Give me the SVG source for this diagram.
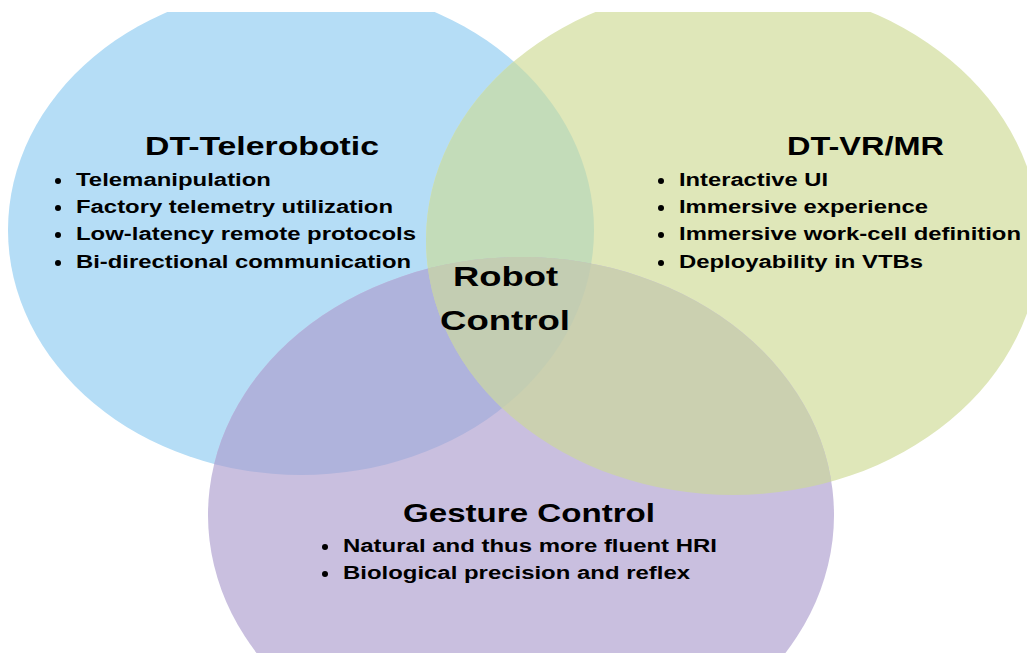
<svg xmlns="http://www.w3.org/2000/svg" width="1027" height="653" viewBox="0 0 1027 653">
<style>
.h{font-family:"Liberation Sans",Arial,sans-serif;font-weight:bold;font-size:26px;fill:#000}
.c{font-family:"Liberation Sans",Arial,sans-serif;font-weight:bold;font-size:28px;fill:#000}
.t{font-family:"Liberation Sans",Arial,sans-serif;font-weight:bold;font-size:18px;fill:#000}
.dot{fill:#000}
</style>
<defs>
<clipPath id="frame"><rect x="0" y="12" width="1027" height="641"/></clipPath>
<clipPath id="cb"><ellipse cx="301" cy="230" rx="293" ry="245"/></clipPath>
<clipPath id="cg"><ellipse cx="733" cy="240" rx="307" ry="255"/></clipPath>
</defs>
<rect width="1027" height="653" fill="#fff"/>
<g clip-path="url(#frame)">
  <g id="dt-telerobotic-shape"><ellipse cx="301" cy="230" rx="293" ry="245" fill="#b5ddf6"/></g>
  <g id="dt-vrmr-shape"><ellipse cx="733" cy="240" rx="307" ry="255" fill="#dfe7b9"/></g>
  <g id="gesture-shape"><ellipse cx="521" cy="515" rx="313" ry="258" fill="#c9bfdf"/></g>
  <g clip-path="url(#cb)"><ellipse cx="733" cy="240" rx="307" ry="255" fill="#c3dcb9"/></g>
  <g clip-path="url(#cb)"><ellipse cx="521" cy="515" rx="313" ry="258" fill="#afb3dc"/></g>
  <g clip-path="url(#cg)"><ellipse cx="521" cy="515" rx="313" ry="258" fill="#cbd0b0"/></g>
  <g clip-path="url(#cb)"><g clip-path="url(#cg)"><ellipse cx="521" cy="515" rx="313" ry="258" fill="#c3cdb2"/></g></g>
</g>
<g id="dt-telerobotic">
  <text class="h" x="145" y="155" textLength="234" lengthAdjust="spacingAndGlyphs">DT-Telerobotic</text>
  <circle class="dot" cx="58" cy="181" r="3"/>
  <text class="t" x="76" y="186" textLength="195" lengthAdjust="spacingAndGlyphs">Telemanipulation</text>
  <circle class="dot" cx="58" cy="208" r="3"/>
  <text class="t" x="76" y="213" textLength="317" lengthAdjust="spacingAndGlyphs">Factory telemetry utilization</text>
  <circle class="dot" cx="58" cy="235" r="3"/>
  <text class="t" x="76" y="240" textLength="340" lengthAdjust="spacingAndGlyphs">Low-latency remote protocols</text>
  <circle class="dot" cx="58" cy="263" r="3"/>
  <text class="t" x="76" y="268" textLength="335" lengthAdjust="spacingAndGlyphs">Bi-directional communication</text>
</g>
<g id="dt-vrmr">
  <text class="h" x="787" y="155" textLength="157" lengthAdjust="spacingAndGlyphs">DT-VR/MR</text>
  <circle class="dot" cx="661" cy="181" r="3"/>
  <text class="t" x="679" y="186" textLength="149" lengthAdjust="spacingAndGlyphs">Interactive UI</text>
  <circle class="dot" cx="661" cy="208" r="3"/>
  <text class="t" x="679" y="213" textLength="249" lengthAdjust="spacingAndGlyphs">Immersive experience</text>
  <circle class="dot" cx="661" cy="235" r="3"/>
  <text class="t" x="679" y="240" textLength="342" lengthAdjust="spacingAndGlyphs">Immersive work-cell definition</text>
  <circle class="dot" cx="661" cy="263" r="3"/>
  <text class="t" x="679" y="268" textLength="244" lengthAdjust="spacingAndGlyphs">Deployability in VTBs</text>
</g>
<g id="gesture-control">
  <text class="h" x="403" y="522" textLength="252" lengthAdjust="spacingAndGlyphs">Gesture Control</text>
  <circle class="dot" cx="325" cy="547" r="3"/>
  <text class="t" x="343" y="552" textLength="374" lengthAdjust="spacingAndGlyphs">Natural and thus more fluent HRI</text>
  <circle class="dot" cx="325" cy="574" r="3"/>
  <text class="t" x="343" y="579" textLength="347" lengthAdjust="spacingAndGlyphs">Biological precision and reflex</text>
</g>
<g id="robot-control">
  <text class="c" x="453" y="286" textLength="105" lengthAdjust="spacingAndGlyphs">Robot</text>
  <text class="c" x="440" y="330" textLength="130" lengthAdjust="spacingAndGlyphs">Control</text>
</g>
<g id="connectors"/>
</svg>
